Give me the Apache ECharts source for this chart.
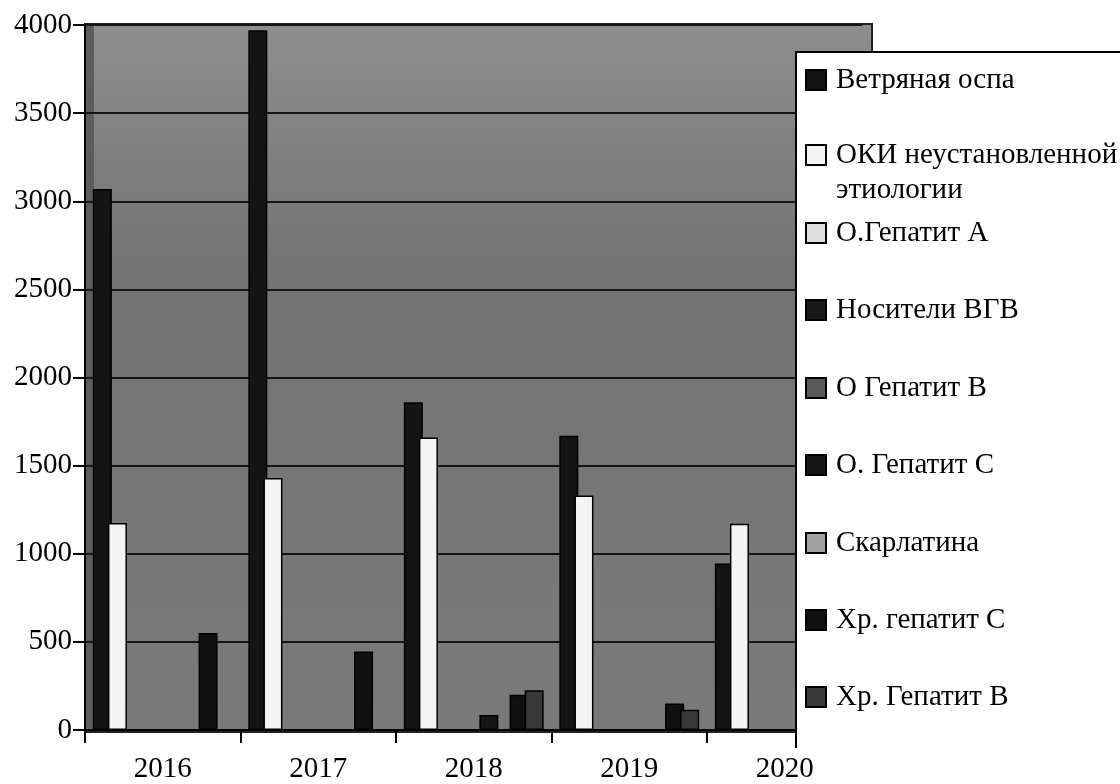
<!DOCTYPE html>
<html><head><meta charset="utf-8">
<script src="https://cdn.jsdelivr.net/npm/echarts@6/dist/echarts.min.js"></script>
<style>html,body{margin:0;padding:0;background:#fff}#c{width:1120px;height:784px}</style>
</head><body><div id="c"></div>
<script>
// ---- data ----
const years = ['2016', '2017', '2018', '2019', '2020'];
const seriesNames = [
  'Ветряная оспа',
  'ОКИ неустановленной этиологии',
  'О.Гепатит А',
  'Носители ВГВ',
  'О Гепатит В',
  'О. Гепатит С',
  'Скарлатина',
  'Хр. гепатит С',
  'Хр. Гепатит В'
];
const varicella   = [3070, 3970, 1860, 1670, 945];
const okiUnknown  = [1175, 1430, 1660, 1330, 1170];
const hepA        = [0, 0, 0, 0, 0];
const hbvCarriers = [0, 0, 0, 0, 0];
const acuteHepB   = [0, 0, 0, 0, 0];
const acuteHepC   = [0, 0, 85, 0, 0];
const scarlet     = [0, 0, 0, 0, 0];
const chronicHepC = [550, 445, 200, 150, 100];
const chronicHepB = [0, 0, 225, 115, 90];
const yTicks = [0, 500, 1000, 1500, 2000, 2500, 3000, 3500, 4000];

// ---- styles / layout ----
const seriesValues = [varicella, okiUnknown, hepA, hbvCarriers, acuteHepB, acuteHepC, scarlet, chronicHepC, chronicHepB];
const colors = ['#141414', '#f4f4f4', '#dedede', '#181818', '#595959', '#161616', '#a2a2a2', '#101010', '#383838'];
const legendCenters = [80, 155, 233, 310, 388, 465, 543, 620, 697];
const FONT = 'Liberation Serif';
const FS = 29;

const chart = echarts.init(document.getElementById('c'), null, {renderer: 'canvas'});

const series = seriesNames.map((name, i) => ({
  name: name,
  type: 'bar',
  data: seriesValues[i],
  barWidth: 19,
  barGap: '-20.5%',
  itemStyle: {color: colors[i], borderColor: '#000', borderWidth: 1.5},
  emphasis: {disabled: true},
  z: 2
}));

const legends = seriesNames.map((name, i) => {
  const twoLine = name.indexOf('ОКИ') === 0;
  const lh = twoLine ? 35 : 34;
  const top = twoLine ? legendCenters[i] - lh * 1.5 : legendCenters[i] - lh / 2;
  return {
    show: true,
    orient: 'vertical',
    left: 805,
    top: top,
    padding: 0,
    itemWidth: 20,
    itemHeight: 20,
    icon: 'rect',
    selectedMode: false,
    data: [name],
    formatter: twoLine ? function () { return '\nОКИ неустановленной\nэтиологии'; } : '{name}',
    textStyle: {fontFamily: FONT, fontSize: FS, color: '#000', lineHeight: lh, padding: [0, 0, 0, 5]},
    z: 20
  };
});

const option = {
  animation: false,
  backgroundColor: '#ffffff',
  grid: {left: 85, right: 257.5, top: 25, bottom: 52, containLabel: false},
  xAxis: {
    type: 'category',
    data: years,
    axisLine: {show: true, lineStyle: {color: '#000', width: 2}},
    axisTick: {show: true, length: 13, lineStyle: {color: '#000', width: 2}},
    axisLabel: {fontFamily: FONT, fontSize: FS, color: '#000', margin: 25},
    splitLine: {show: false},
    z: 3
  },
  yAxis: {
    type: 'value',
    min: yTicks[0],
    max: yTicks[yTicks.length - 1],
    interval: yTicks[1] - yTicks[0],
    axisLine: {show: true, lineStyle: {color: '#000', width: 2}},
    axisTick: {show: true, length: 12, lineStyle: {color: '#000', width: 2}},
    axisLabel: {fontFamily: FONT, fontSize: FS, color: '#000', margin: 13, formatter: function (v) { return String(v); }},
    splitLine: {show: true, lineStyle: {color: '#151515', width: 2}}
  },
  legend: legends,
  graphic: [
    {
      type: 'rect', z: -10,
      shape: {x: 85, y: 24, width: 787, height: 708},
      style: {
        fill: {type: 'linear', x: 0, y: 0, x2: 0, y2: 1, colorStops: [
          {offset: 0, color: '#8e8e8e'}, {offset: 0.35, color: '#737373'}, {offset: 1, color: '#7a7a7a'}]},
        stroke: '#222', lineWidth: 2
      }
    },
    {
      type: 'rect', z: -9,
      shape: {x: 86, y: 25, width: 8, height: 706},
      style: {fill: '#5c5c5c'}
    },
    {
      type: 'rect', z: 10,
      shape: {x: 796, y: 52, width: 340, height: 696},
      style: {fill: '#ffffff', stroke: null}
    },
    {
      type: 'polyline', z: 11,
      shape: {points: [[796, 748], [796, 52], [1136, 52]]},
      style: {stroke: '#000', lineWidth: 2, fill: null}
    }
  ],
  series: series
};
chart.setOption(option);
</script>
</body></html>
